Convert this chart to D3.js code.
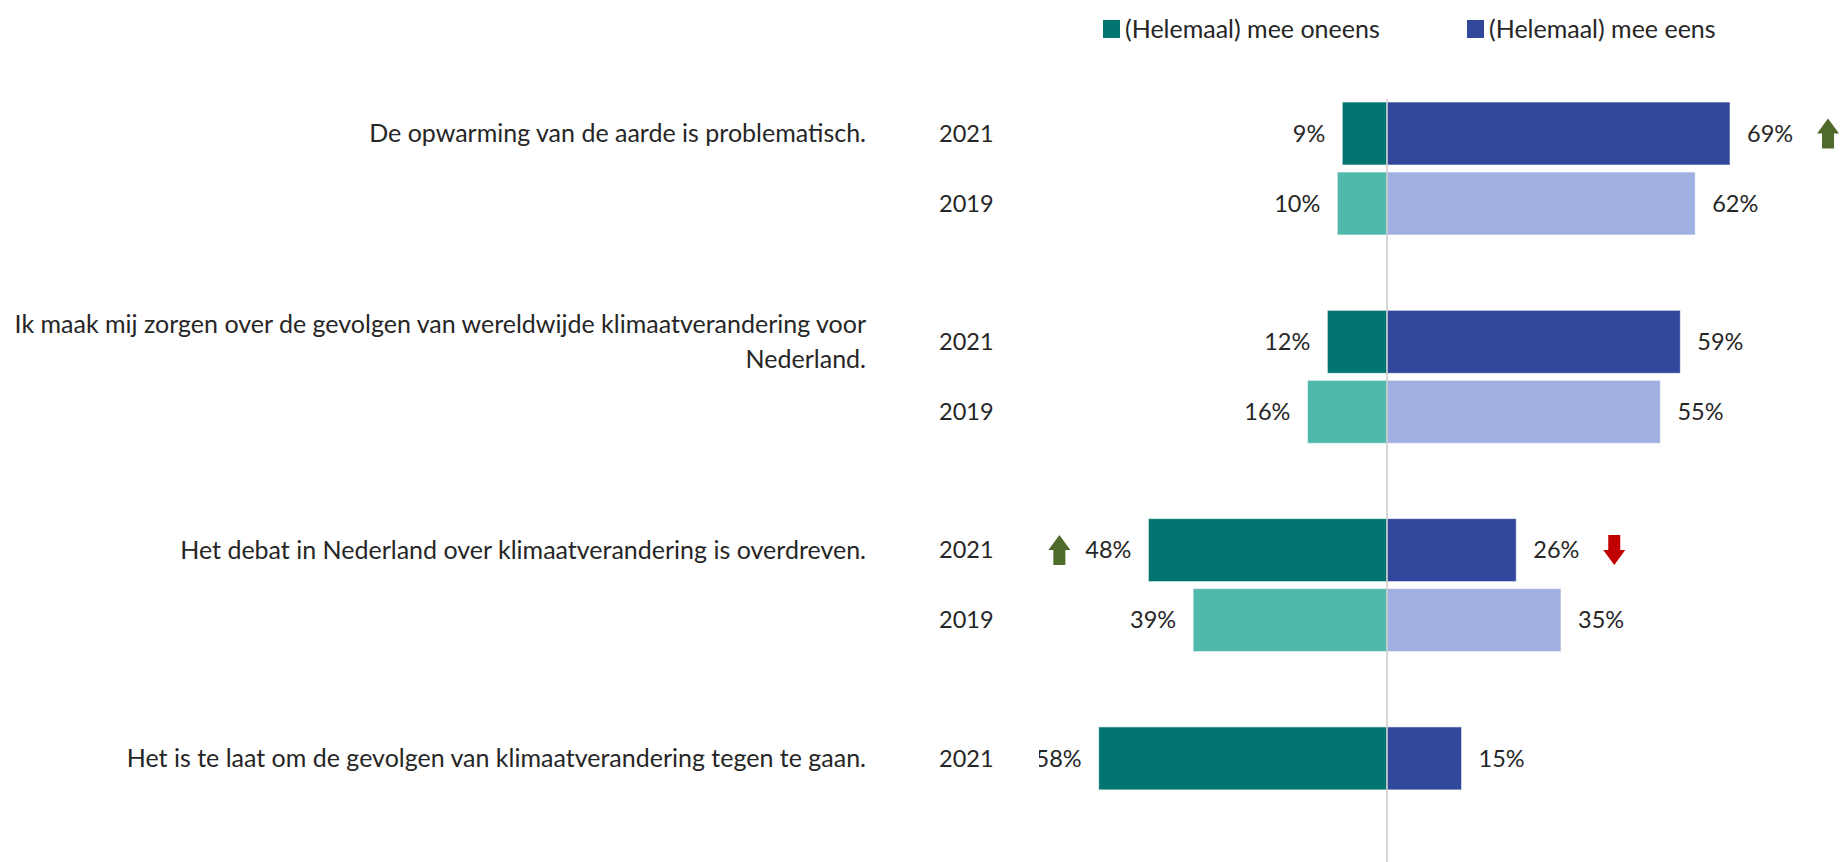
<!DOCTYPE html>
<html>
<head>
<meta charset="utf-8">
<script src="https://cdn.jsdelivr.net/npm/d3@7"></script>
<style>
    body { margin: 0; background: #fff; }
    svg text { font-family: Lato, "Open Sans", sans-serif; fill: #262626; }
</style>
</head>
<body>
<svg id="chart"></svg>
<script>
const questions = [
    'De opwarming van de aarde is problematisch.',
    'Ik maak mij zorgen over de gevolgen van wereldwijde klimaatverandering voor Nederland.',
    'Het debat in Nederland over klimaatverandering is overdreven.',
    'Het is te laat om de gevolgen van klimaatverandering tegen te gaan.'
];
const years = ['2021', '2019'];
const oneens2021 = [9, 12, 48, 58];
const eens2021 = [69, 59, 26, 15];
const oneens2019 = [10, 16, 39, null];
const eens2019 = [62, 55, 35, null];
const legendLabels = ['(Helemaal) mee oneens', '(Helemaal) mee eens'];
// significant changes vs 2019
const changes = [
    { q: 0, side: 'eens', dir: 'up' },
    { q: 2, side: 'oneens', dir: 'up' },
    { q: 2, side: 'eens', dir: 'down' }
];

const width = 1842, height = 862;
const wordSize = 25, numSize = 23.5;
const colors = {
    oneens: { '2021': '#037570', '2019': '#51b9ac' },
    eens: { '2021': '#30479b', '2019': '#a0b0e0' }
};

const rows = [];
questions.forEach((q, i) => {
    rows.push({ q: i, year: '2021', oneens: oneens2021[i], eens: eens2021[i] });
    if (oneens2019[i] != null) rows.push({ q: i, year: '2019', oneens: oneens2019[i], eens: eens2019[i] });
});

const svg = d3.select('#chart').attr('width', width).attr('height', height);

const x = d3.scaleLinear().domain([-70, 70]).range([1039, 1735]);
const y0 = d3.scaleBand().domain(questions.map((d, i) => i)).range([102, 102 + 4 * 208.3]);
const y1 = d3.scaleBand().domain(years).range([0, 133]).paddingInner(0.1);
const rowY = d => y0(d.q) + y1(d.year);

svg.append('clipPath').attr('id', 'plot-clip')
    .append('rect').attr('x', x(-70)).attr('y', 0).attr('width', width - x(-70)).attr('height', height);

// legend
const legend = svg.append('g');
[['oneens', 1103], ['eens', 1467]].forEach(([key, lx], i) => {
    legend.append('rect').attr('x', lx).attr('y', 20).attr('width', 17).attr('height', 18)
        .attr('fill', colors[key]['2021']);
    legend.append('text').attr('x', lx + 22).attr('y', 29).attr('dy', '0.35em')
        .attr('font-size', wordSize).text(legendLabels[i]);
});

// bars
const plot = svg.append('g');
['oneens', 'eens'].forEach(side => {
    plot.selectAll('rect.' + side)
        .data(rows)
        .enter().append('rect')
        .attr('class', side)
        .attr('x', d => side === 'eens' ? x(0) : x(-d[side]))
        .attr('y', rowY)
        .attr('width', d => x(d[side]) - x(0))
        .attr('height', y1.bandwidth())
        .attr('fill', d => colors[side][d.year])
        .attr('stroke', 'rgba(255,255,255,0.6)')
        .attr('stroke-width', 1);
});

// centre line
svg.append('line')
    .attr('x1', x(0)).attr('x2', x(0))
    .attr('y1', 99).attr('y2', height)
    .attr('stroke', '#c9c9c9').attr('stroke-width', 1.5);

// value labels
const labels = svg.append('g').attr('clip-path', 'url(#plot-clip)');
labels.selectAll('text.oneens')
    .data(rows).enter().append('text')
    .attr('x', d => x(-d.oneens) - 17)
    .attr('y', d => rowY(d) + y1.bandwidth() / 2)
    .attr('dy', '0.35em').attr('text-anchor', 'end').attr('font-size', numSize)
    .text(d => d.oneens + '%');
labels.selectAll('text.eens')
    .data(rows).enter().append('text')
    .attr('x', d => x(d.eens) + 17)
    .attr('y', d => rowY(d) + y1.bandwidth() / 2)
    .attr('dy', '0.35em').attr('font-size', numSize)
    .text(d => d.eens + '%');

// year labels
svg.selectAll('text.year')
    .data(rows).enter().append('text')
    .attr('x', 939)
    .attr('y', d => rowY(d) + y1.bandwidth() / 2)
    .attr('dy', '0.35em').attr('font-size', numSize)
    .text(d => d.year);

// question labels, wrapped and centred on the 2021 bar
function wrapLines(str, maxWidth, probe) {
    const words = str.split(' ');
    const lines = [];
    let line = '';
    words.forEach(w => {
        const test = line ? line + ' ' + w : w;
        probe.text(test);
        if (probe.node().getComputedTextLength() > maxWidth && line) {
            lines.push(line);
            line = w;
        } else {
            line = test;
        }
    });
    lines.push(line);
    return lines;
}
const probe = svg.append('text').attr('font-size', wordSize);
questions.forEach((q, i) => {
    const lines = wrapLines(q, 880, probe);
    const cy = y0(i) + y1('2021') + y1.bandwidth() / 2;
    const lh = 35;
    const t = svg.append('text').attr('text-anchor', 'end').attr('font-size', wordSize);
    lines.forEach((l, j) => {
        t.append('tspan')
            .attr('x', 866)
            .attr('y', cy + (j - (lines.length - 1) / 2) * lh)
            .attr('dy', '0.35em')
            .text(l);
    });
});
probe.remove();

// change arrows
const arrowPath = dir => {
    const w = 22, h = 30, shaft = 12, head = 15;
    const s = dir === 'up' ? 1 : -1;
    const p = d3.path();
    p.moveTo(0, -s * h / 2);
    p.lineTo(w / 2, -s * (h / 2 - head));
    p.lineTo(shaft / 2, -s * (h / 2 - head));
    p.lineTo(shaft / 2, s * h / 2);
    p.lineTo(-shaft / 2, s * h / 2);
    p.lineTo(-shaft / 2, -s * (h / 2 - head));
    p.lineTo(-w / 2, -s * (h / 2 - head));
    p.closePath();
    return p.toString();
};
svg.selectAll('path.arrow')
    .data(changes).enter().append('path')
    .attr('d', d => arrowPath(d.dir))
    .attr('fill', d => d.dir === 'up' ? '#4e6b2a' : '#c00000')
    .attr('transform', d => {
        const v = d.side === 'eens' ? eens2021[d.q] : -oneens2021[d.q];
        const ax = d.side === 'eens' ? x(v) + 98 : x(v) - 89;
        const ay = y0(d.q) + y1('2021') + y1.bandwidth() / 2;
        return `translate(${ax},${ay})`;
    });
</script>
</body>
</html>
